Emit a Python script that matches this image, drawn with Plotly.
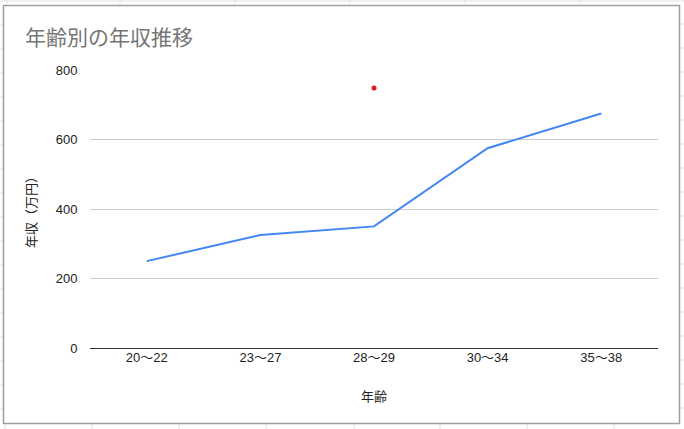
"""
年齢別の年収推移 line chart (Google Sheets style) rebuilt with plotly
"""
import plotly.graph_objects as go

# data
age_groups = ['20〜22', '23〜27', '28〜29', '30〜34', '35〜38']
income = [250, 325, 350, 575, 675]
marker_group = ['28〜29']
marker_value = [748]
y_ticks = [0, 200, 400, 600, 800]

W, H = 684, 429
L, R, T, B = 90, 658, 70, 348
FONT = 'Arial, "Liberation Sans", "Noto Sans CJK JP", sans-serif'


def px(x):
    return (x - L) / (R - L)


def py(y):
    return (B - y) / (B - T)


fig = go.Figure()
fig.add_trace(go.Scatter(x=age_groups, y=income, mode='lines',
                         line=dict(color='#4285F4', width=2),
                         showlegend=False, hoverinfo='x+y'))
fig.add_trace(go.Scatter(x=marker_group, y=marker_value, mode='markers',
                         marker=dict(color='#E8141A', size=5),
                         showlegend=False, hoverinfo='x+y'))

shapes = []
# faint spreadsheet cells around the chart
cell = dict(type='line', xref='paper', yref='paper',
            line=dict(color='#E2E2E2', width=1), layer='below')
shapes.append(dict(cell, x0=px(0), x1=px(W), y0=py(1), y1=py(1)))
for x in [7, 120, 235, 350, 465, 580]:
    shapes.append(dict(cell, x0=px(x), x1=px(x), y0=py(0), y1=py(4)))
for x in [5, 92, 179, 266, 354, 440, 527, 614]:
    shapes.append(dict(cell, x0=px(x), x1=px(x), y0=py(424), y1=py(H)))
for y in range(24, 424, 24):
    shapes.append(dict(cell, x0=px(680), x1=px(W), y0=py(y), y1=py(y)))
for y in range(25, 424, 24):
    shapes.append(dict(cell, x0=px(0), x1=px(3), y0=py(y), y1=py(y)))
# chart frame
shapes.append(dict(type='rect', xref='paper', yref='paper',
                   x0=px(3.5), x1=px(679.5), y0=py(423.5), y1=py(5.5),
                   line=dict(color='#9E9E9E', width=1.5), layer='below'))

fig.update_layout(
    width=W, height=H,
    margin=dict(l=L, r=W - R, t=T, b=H - B),
    paper_bgcolor='white', plot_bgcolor='white',
    font=dict(family=FONT, size=13, color='#222222'),
    title=dict(text='年齢別の年収推移', xref='container', yref='container',
               x=25 / W, xanchor='left', y=1 - 38 / H, yanchor='middle',
               font=dict(family='"Noto Sans CJK JP", sans-serif', size=21, color='#757575')),
    shapes=shapes,
    xaxis=dict(range=[-0.5, 4.5], showgrid=False, ticks='', showline=False,
               zeroline=False, tickfont=dict(size=13, color='#222222'),
               title=dict(text='年齢', standoff=27, font=dict(size=13, color='#222222'))),
    yaxis=dict(range=[0, 800], tickvals=y_ticks, gridcolor='#CCCCCC', gridwidth=1,
               zeroline=True, zerolinecolor='#333333', zerolinewidth=1,
               ticks='outside', ticklen=9, tickcolor='rgba(0,0,0,0)',
               tickfont=dict(size=13, color='#222222'),
               title=dict(text='年収（万円）', standoff=16, font=dict(size=13, color='#222222'))),
)

fig.write_html("out.html", config={'displayModeBar': False},
               post_script="document.body.style.margin='0';")
